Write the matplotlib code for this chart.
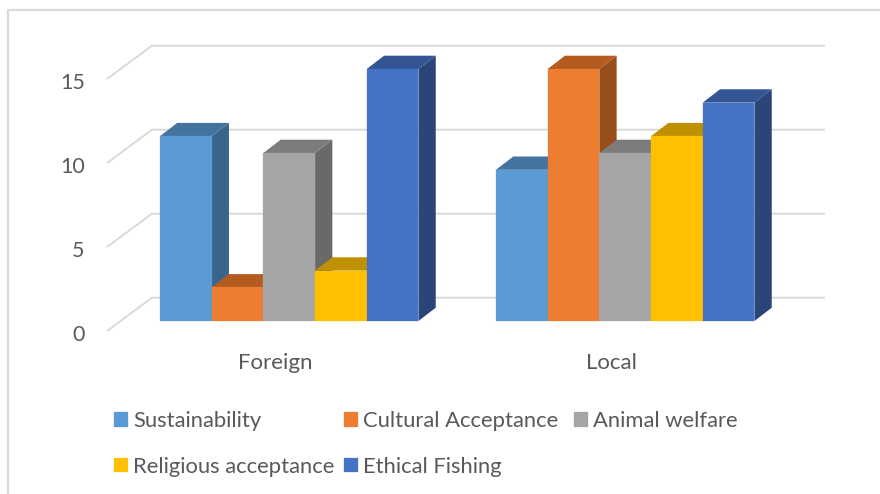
import matplotlib
matplotlib.use("Agg")
import matplotlib.pyplot as plt
from matplotlib.patches import Polygon
from matplotlib.lines import Line2D
from matplotlib.transforms import ScaledTranslation

plt.rcParams['font.family'] = ['Lato', 'DejaVu Sans']

groups = ["Foreign", "Local"]
series = ["Sustainability", "Cultural Acceptance", "Animal welfare",
          "Religious acceptance", "Ethical Fishing"]
sustainability = [11, 9]
cultural = [2, 15]
animal = [10, 10]
religious = [3, 11]
ethical = [15, 13]
values = [sustainability, cultural, animal, religious, ethical]
yticks = [0, 5, 10, 15]

front = ["#5B9BD5", "#ED7D31", "#A5A5A5", "#FFC000", "#4472C4"]
top = ["#44739F", "#B45B20", "#7C7C7C", "#BF9000", "#335593"]
side = ["#3A6489", "#974E1B", "#696969", "#A37B00", "#2A4679"]
grid = "#D9D9D9"
text = "#595959"
W, H = 880, 494

# geometry in pixels
px_y = 16.8
px_x = 336.0
x0_px = 275.5
ax_l, ax_r, ax_b, ax_t = 107, 825, 331, 45

fig = plt.figure(figsize=(W / 100, H / 100), dpi=100, facecolor="white")
ax = fig.add_axes([ax_l / W, 1 - ax_b / H, (ax_r - ax_l) / W, (ax_b - ax_t) / H])
ax.set_xlim((ax_l - x0_px) / px_x, (ax_r - x0_px) / px_x)
ax.set_ylim(0, (ax_b - ax_t) / px_y)
ax.patch.set_visible(False)
for s in ax.spines.values():
    s.set_visible(False)

# walls
wall_dx = 45 / px_x
wall_dy = 33.3 / px_y
xl = ax.get_xlim()
for v in yticks:
    ax.plot([xl[0], xl[0] + wall_dx, xl[1]], [v, v + wall_dy, v + wall_dy],
            color=grid, lw=1.4, clip_on=False, zorder=1, solid_capstyle="butt")

# bars
bar_w = 51.7 / px_x
base = 10 / px_y
dx = 17.3 / px_x
dy = 13.3 / px_y
group_shift = 13.7 / px_x
handles = []
z = 2
for g in range(len(groups)):
    for i, name in enumerate(series):
        v = values[i][g]
        x = g + group_shift + (i - 2) * bar_w
        l, r = x - bar_w / 2, x + bar_w / 2
        t = base + v
        ax.add_patch(Polygon([(r, base), (r + dx, base + dy), (r + dx, t + dy), (r, t)],
                             closed=True, fc=side[i], ec="none", zorder=z, clip_on=False))
        ax.add_patch(Polygon([(l, t), (l + dx, t + dy), (r + dx, t + dy), (r, t)],
                             closed=True, fc=top[i], ec="none", zorder=z + 0.1, clip_on=False))
        c = ax.bar(x, v, width=bar_w, bottom=base, color=front[i], edgecolor=front[i],
                   linewidth=0.2, zorder=z + 0.2,
                   label=name if g == 0 else None, clip_on=False)
        if g == 0:
            handles.append(c[0])
        z += 1

ax.set_xticks(range(len(groups)), groups)
ax.set_yticks(yticks, [str(v) for v in yticks])
ax.tick_params(axis="both", length=0, labelcolor=text)
ax.tick_params(axis="x", pad=15.5, labelsize=16)
ax.tick_params(axis="y", pad=16, labelsize=15.5)
shift = ScaledTranslation(0, -2 / 100, fig.dpi_scale_trans)
for lbl in ax.get_yticklabels():
    lbl.set_transform(lbl.get_transform() + shift)

# legend: two columns read row by row, and the third column placed on its own
legend_kw = dict(loc="upper left", borderaxespad=0, borderpad=0, frameon=False,
                 fontsize=15.8, labelcolor=text, handlelength=0.64, handleheight=0.64,
                 handletextpad=0.24, columnspacing=0.41, labelspacing=1.18)
order = [0, 3, 1, 4]
fig.legend([handles[i] for i in order], [series[i] for i in order], ncols=2,
           bbox_to_anchor=(114 / W, 1 - 411 / H), **legend_kw)
fig.legend([handles[2]], [series[2]], ncols=1,
           bbox_to_anchor=(574 / W, 1 - 411 / H), **legend_kw)

# outer frame: only left and top edges are visible
fig.add_artist(Line2D([8 / W, 8 / W, 1], [0, 1 - 10 / H, 1 - 10 / H], color=grid, lw=1.6,
                      transform=fig.transFigure))

fig.savefig("out.png", dpi=100)
